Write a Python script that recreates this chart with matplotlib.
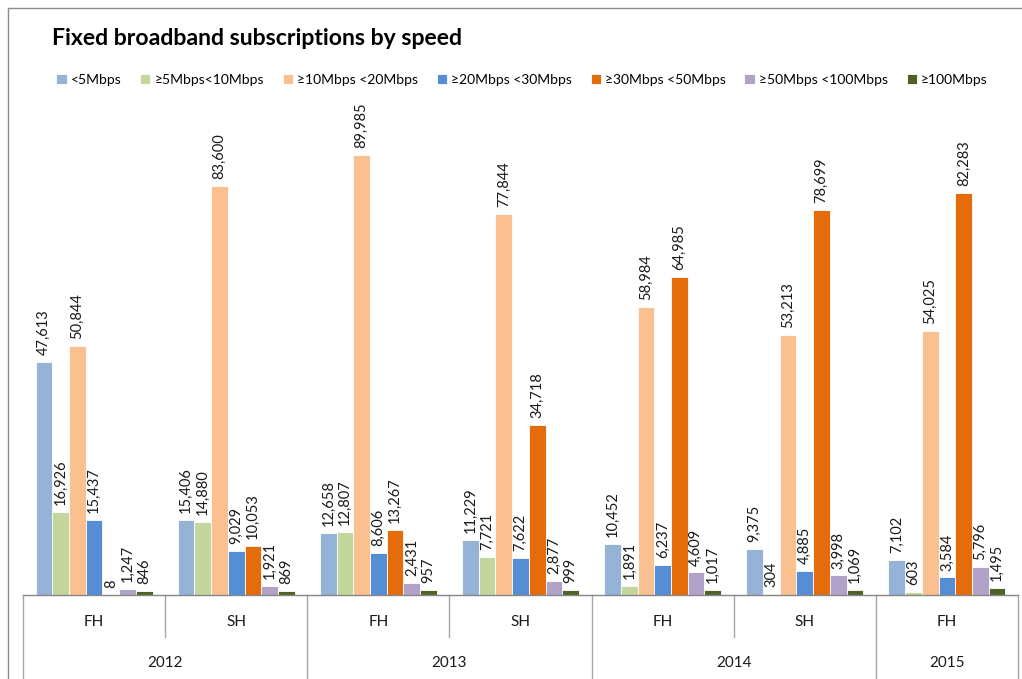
import matplotlib
matplotlib.use("Agg")
import matplotlib.pyplot as plt
from matplotlib.lines import Line2D
import matplotlib.transforms as mtransforms

plt.rcParams['font.family'] = ['Lato', 'DejaVu Sans']

periods = ["FH", "SH", "FH", "SH", "FH", "SH", "FH"]
years = ["2012", "2013", "2014", "2015"]
year_spans = [(0, 1), (2, 3), (4, 5), (6, 6)]
series_names = ["<5Mbps", "≥5Mbps<10Mbps", "≥10Mbps <20Mbps", "≥20Mbps <30Mbps",
                "≥30Mbps <50Mbps", "≥50Mbps <100Mbps", "≥100Mbps"]
colors = ["#95B3D7", "#C3D69B", "#FAC090", "#558ED5", "#E46C0A", "#B3A2C7", "#4F6228"]

s_lt5 = [47613, 15406, 12658, 11229, 10452, 9375, 7102]
s_5_10 = [16926, 14880, 12807, 7721, 1891, 304, 603]
s_10_20 = [50844, 83600, 89985, 77844, 58984, 53213, 54025]
s_20_30 = [15437, 9029, 8606, 7622, 6237, 4885, 3584]
s_30_50 = [8, 10053, 13267, 34718, 64985, 78699, 82283]
s_50_100 = [1247, 1921, 2431, 2877, 4609, 3998, 5796]
s_100 = [846, 869, 957, 999, 1017, 1069, 1495]
series = [s_lt5, s_5_10, s_10_20, s_20_30, s_30_50, s_50_100, s_100]

W, H = 1022, 679
fig = plt.figure(figsize=(W / 100, H / 100), dpi=100)
ax_bottom = (H - 595) / H
ax_height = 489 / H
ax = fig.add_axes([23 / W, ax_bottom, 995 / W, ax_height])

n = len(series)
bw = 0.824 / n
x = list(range(len(periods)))
handles = []
for i, (vals, col, name) in enumerate(zip(series, colors, series_names)):
    xs = [xx + (i - (n - 1) / 2) * bw for xx in x]
    bars = ax.bar(xs, vals, width=bw, color=col, edgecolor="white", linewidth=0.6,
                  label=name, zorder=2)
    handles.append(bars)
    for xv, v in zip(xs, vals):
        ax.annotate(f"{v:,}", (xv, v), xytext=(0, 5), textcoords="offset points",
                    rotation=90, ha="center", va="bottom", fontsize=10.5,
                    color="#1a1a1a", zorder=3)

ax.set_xlim(-0.5, len(periods) - 0.5)
ax.set_ylim(0, 100000)
for s in ["top", "right", "left"]:
    ax.spines[s].set_visible(False)
ax.spines["bottom"].set_color("#868686")
ax.spines["bottom"].set_linewidth(1.0)
ax.set_xticks([])
ax.set_yticks([])
ax.patch.set_alpha(0)

trans = mtransforms.blended_transform_factory(ax.transData, ax.transAxes)
y_per = -(622 - 595) / 489
y_year = -(663 - 595) / 489
y_inner_end = -(637 - 595) / 489
y_outer_end = -(679 - 595) / 489
for xi, p in enumerate(periods):
    ax.text(xi, y_per, p, transform=trans, ha="center", va="center", fontsize=11,
            color="#1a1a1a", clip_on=False)
for yr, (a, b) in zip(years, year_spans):
    ax.text((a + b) / 2, y_year, yr, transform=trans, ha="center", va="center",
            fontsize=11, color="#1a1a1a", clip_on=False)
    if b > a:
        ax.add_line(Line2D([a + 0.5, a + 0.5], [0, y_inner_end], transform=trans,
                           color="#A6A6A6", lw=1.0, clip_on=False))
bounds = [-0.5] + [b + 0.5 for (_, b) in year_spans]
for bx in bounds:
    ax.add_line(Line2D([bx, bx], [0, y_outer_end], transform=trans,
                       color="#A6A6A6", lw=1.0, clip_on=False))

# chart border
fig.add_artist(Line2D([8 / W, 8 / W], [0, 1 - 8 / H], transform=fig.transFigure,
                      color="#8c8c8c", lw=1.0))
fig.add_artist(Line2D([8 / W, 1], [1 - 8 / H, 1 - 8 / H], transform=fig.transFigure,
                      color="#8c8c8c", lw=1.0))

fig.text(52 / W, 1 - 45 / H, "Fixed broadband subscriptions by speed", fontsize=16.6,
         fontweight="bold", ha="left", va="baseline", color="black")

fig.legend(handles=handles, labels=series_names, loc="center", ncol=7,
           bbox_to_anchor=(522 / W, 1 - 80 / H), frameon=False, fontsize=10,
           handlelength=0.75, handleheight=0.75, handletextpad=0.3,
           columnspacing=1.33, borderaxespad=0)

fig.savefig("out.png", dpi=100)
